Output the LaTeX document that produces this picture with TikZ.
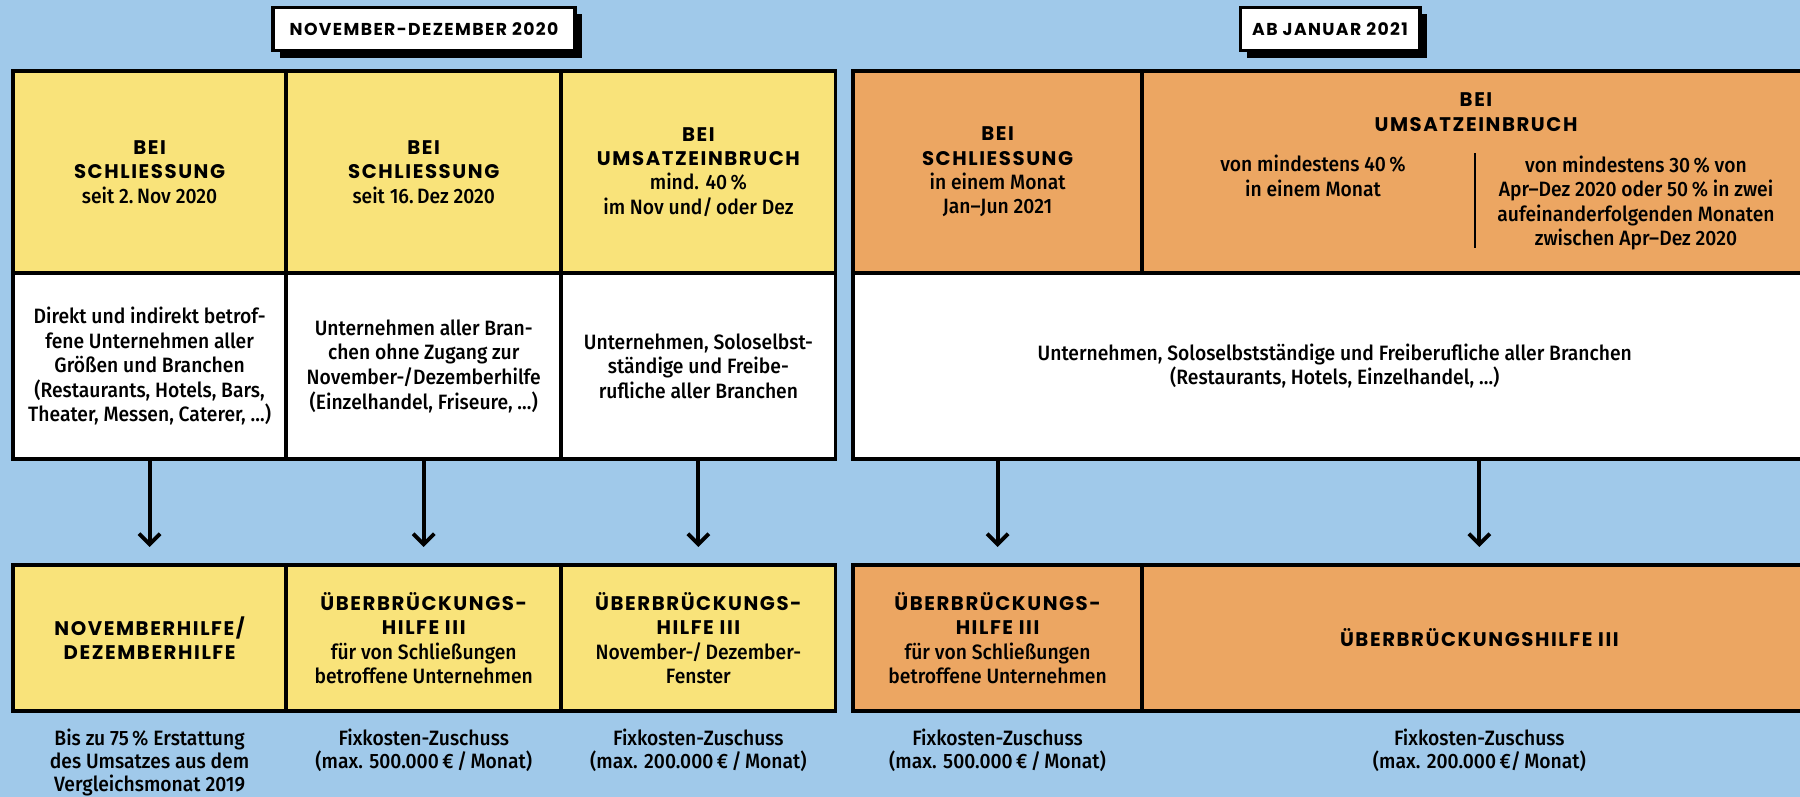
\documentclass[tikz,border=0pt]{standalone}
\usepackage{fontspec}
\setmainfont{Fira Sans}[FakeStretch=0.93, UprightFont={* Medium}]
\newfontfamily\capsfont{Poppins}[LetterSpace=8]
\usetikzlibrary{arrows.meta,shadows,positioning}
\definecolor{skyblue}{RGB}{160,201,234}
\definecolor{sunyellow}{RGB}{249,227,122}
\definecolor{peach}{RGB}{236,166,98}
\newcommand{\hdr}[1]{{\capsfont\bfseries\fontsize{5.6}{6.9}\selectfont #1}}

\begin{document}
\begin{tikzpicture}
    [x=0.01cm, y=-0.01cm, font=\fontsize{5.9}{7.0}\selectfont,
    cell/.style={draw=black, line width=1.1pt, inner sep=0pt, outer sep=0pt, align=center},
    head/.style={cell, minimum height=2.02cm, font=\fontsize{5.9}{6.9}\selectfont},
    body/.style={cell, fill=white, minimum height=1.86cm},
    foot/.style={cell, minimum height=1.46cm, font=\fontsize{5.9}{6.9}\selectfont},
    title/.style={draw=black, fill=white, line width=1.1pt, minimum height=0.43cm,
        drop shadow={shadow xshift=0.07cm, shadow yshift=-0.07cm, fill=black, opacity=1},
        font=\capsfont\bfseries\fontsize{4.9}{6}\selectfont},
    capt/.style={align=center, inner sep=0pt},
    note/.style={capt, font=\fontsize{5.9}{6.5}\selectfont},
    arr/.style={-{Straight Barb[length=3pt,width=6pt]}, line width=1.1pt, shorten >=0.18cm}]

    \useasboundingbox (0,0) rectangle (1800,797);
    \fill[skyblue] (0,0) rectangle (1800,797);

    % period titles
    \node[title, minimum width=3.01cm] (nd) at (424,29) {NOVEMBER-DEZEMBER 2020};
    \node[title, minimum width=1.79cm] (jan) at (1330,29) {AB JANUAR 2021};

    % November/December: header row
    \node[head, fill=sunyellow, minimum width=2.73cm, anchor=north west] (h1) at (13,71)
        {\hdr{BEI}\\\hdr{SCHLIESSUNG}\\seit 2.\,Nov 2020};
    \node[head, fill=sunyellow, minimum width=2.75cm, right=0pt of h1] (h2)
        {\hdr{BEI}\\\hdr{SCHLIESSUNG}\\seit 16.\,Dez 2020};
    \node[head, fill=sunyellow, minimum width=2.74cm, right=0pt of h2] (h3)
        {\hdr{BEI}\\\hdr{UMSATZEINBRUCH}\\mind. 40\,\%\\im Nov und/\,oder Dez};

    % November/December: who
    \node[body, minimum width=2.73cm, below=0pt of h1] (w1)
        {Direkt und indirekt betrof-\\fene Unternehmen aller\\Größen und Branchen\\(Restaurants, Hotels, Bars,\\Theater, Messen, Caterer, …)};
    \node[body, minimum width=2.75cm, below=0pt of h2] (w2)
        {Unternehmen aller Bran-\\chen ohne Zugang zur\\November-/Dezemberhilfe\\(Einzelhandel, Friseure, …)};
    \node[body, minimum width=2.74cm, below=0pt of h3] (w3)
        {Unternehmen, Soloselbst-\\ständige und Freibe-\\rufliche aller Branchen};

    % November/December: aid
    \node[foot, fill=sunyellow, minimum width=2.73cm, anchor=north west] (b1) at (13,565)
        {\hdr{NOVEMBERHILFE/}\\\hdr{DEZEMBERHILFE}};
    \node[foot, fill=sunyellow, minimum width=2.75cm, right=0pt of b1] (b2)
        {\hdr{ÜBERBRÜCKUNGS-}\\\hdr{HILFE III}\\für von Schließungen\\betroffene Unternehmen};
    \node[foot, fill=sunyellow, minimum width=2.74cm, right=0pt of b2] (b3)
        {\hdr{ÜBERBRÜCKUNGS-}\\\hdr{HILFE III}\\November-/\,Dezember-\\Fenster};

    % from January: header row
    \node[head, fill=peach, minimum width=2.89cm, anchor=north west] (h4) at (853,71)
        {\hdr{BEI}\\\hdr{SCHLIESSUNG}\\in einem Monat\\Jan–Jun 2021};
    \node[head, fill=peach, minimum width=6.74cm, right=0pt of h4] (h5) {};
    \node[capt] (um) at (1476,112) {\hdr{BEI}\\\hdr{UMSATZEINBRUCH}};
    \node[capt] (um40) at (1313,176) {von mindestens 40\,\%\\in einem Monat};
    \node[capt] (um30) at (1636,203)
        {von mindestens 30\,\% von\\Apr–Dez 2020 oder 50\,\% in zwei\\aufeinanderfolgenden Monaten\\zwischen Apr–Dez 2020};
    \draw[line width=0.5pt] (1475,153) -- (1475,248);

    % from January: who and aid
    \node[body, minimum width=9.63cm, anchor=north west] (w4) at (853,273)
        {Unternehmen, Soloselbstständige und Freiberufliche aller Branchen\\(Restaurants, Hotels, Einzelhandel, …)};
    \node[foot, fill=peach, minimum width=2.89cm, anchor=north west] (b4) at (853,565)
        {\hdr{ÜBERBRÜCKUNGS-}\\\hdr{HILFE III}\\für von Schließungen\\betroffene Unternehmen};
    \node[foot, fill=peach, minimum width=6.74cm, right=0pt of b4] (b5)
        {\hdr{ÜBERBRÜCKUNGSHILFE III}};

    % arrows
    \draw[arr] (w1) -- (b1);
    \draw[arr] (w2) -- (b2);
    \draw[arr] (w3) -- (b3);
    \draw[arr] (w4.south -| b4) -- (b4);
    \draw[arr] (w4.south -| b5) -- (b5);

    % amounts
    \node[note, below=0.17cm of b1] (c1) {Bis zu 75\,\% Erstattung\\des Umsatzes aus dem\\Vergleichsmonat 2019};
    \node[note, below=0.17cm of b2] (c2) {Fixkosten-Zuschuss\\(max. 500.000\,€\,/\,Monat)};
    \node[note, below=0.17cm of b3] (c3) {Fixkosten-Zuschuss\\(max. 200.000\,€\,/\,Monat)};
    \node[note, below=0.17cm of b4] (c4) {Fixkosten-Zuschuss\\(max. 500.000\,€\,/\,Monat)};
    \node[note, below=0.17cm of b5] (c5) {Fixkosten-Zuschuss\\(max. 200.000\,€/\,Monat)};

\end{tikzpicture}
\end{document}
